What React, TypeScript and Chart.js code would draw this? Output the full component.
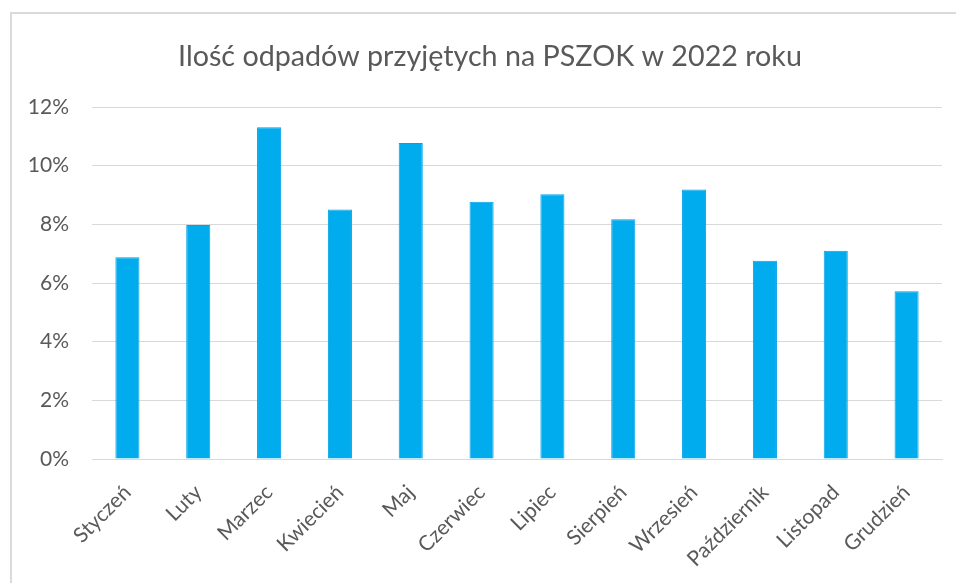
import React, { useEffect, useRef } from "react";
import { Chart, registerables } from "chart.js";

Chart.register(...registerables);

const TITLE = "Ilość odpadów przyjętych na PSZOK w 2022 roku";
const categories = [
  "Styczeń",
  "Luty",
  "Marzec",
  "Kwiecień",
  "Maj",
  "Czerwiec",
  "Lipiec",
  "Sierpień",
  "Wrzesień",
  "Październik",
  "Listopad",
  "Grudzień",
];
const shares = [6.88, 7.98, 11.31, 8.51, 10.77, 8.77, 9.03, 8.17, 9.19, 6.76, 7.1, 5.72];
const yMin = 0;
const yMax = 12;
const yStep = 2;

const FONT = "Lato, 'Open Sans', sans-serif";
const TEXT = "#595959";
const GRID = "#d9d9d9";

const titleShift = {
  id: "titleShift",
  afterLayout(chart: any) {
    const t = chart.titleBlock;
    if (t) t.left += 38;
  },
};

export default function App() {
  const ref = useRef<HTMLCanvasElement | null>(null);

  useEffect(() => {
    if (!ref.current) return;
    const chart = new Chart(ref.current, {
      type: "bar",
      data: {
        labels: categories,
        datasets: [
          {
            data: shares,
            backgroundColor: "#00ACEE",
            borderColor: "#00A3E6",
            borderWidth: 1,
            barPercentage: 0.34,
            categoryPercentage: 1,
          },
        ],
      },
      plugins: [titleShift],
      options: {
        animation: false,
        responsive: false,
        devicePixelRatio: 1,
        layout: { padding: { left: 0, right: 14, top: 0, bottom: 0 } },
        plugins: {
          legend: { display: false },
          tooltip: { enabled: false },
          title: {
            display: true,
            text: TITLE,
            color: TEXT,
            font: { family: FONT, size: 28.7, weight: "normal", lineHeight: 1.2 },
            padding: { top: 40, bottom: 32.6 },
          },
        },
        scales: {
          x: {
            grid: { display: false },
            border: { display: true, color: GRID, width: 1 },
            ticks: {
              color: TEXT,
              font: { family: FONT, size: 21 },
              minRotation: 45,
              maxRotation: 45,
              autoSkip: false,
              padding: 13,
            },
            afterFit: (s: any) => {
              s.height = 583 - 459;
            },
          },
          y: {
            min: yMin,
            max: yMax,
            border: { display: false },
            grid: { color: GRID, lineWidth: 1, drawTicks: false },
            ticks: {
              stepSize: yStep,
              color: TEXT,
              font: { family: FONT, size: 21 },
              padding: 23,
              callback: (v: any) => `${v}%`,
            },
            afterFit: (s: any) => {
              s.width = 92;
            },
          },
        },
      },
    });
    return () => chart.destroy();
  }, []);

  return (
    <div
      style={{
        position: "fixed",
        left: 0,
        top: 0,
        width: 956,
        height: 583,
        background: "#fff",
        overflow: "hidden",
      }}
    >
      <div
        style={{
          position: "absolute",
          left: 10,
          top: 12,
          width: 1000,
          height: 700,
          borderLeft: "2px solid #dadada",
          borderTop: "2px solid #dadada",
        }}
      />
      <canvas
        ref={ref}
        width={956}
        height={583}
        style={{ position: "absolute", left: 0, top: 0, width: 956, height: 583 }}
      />
    </div>
  );
}
